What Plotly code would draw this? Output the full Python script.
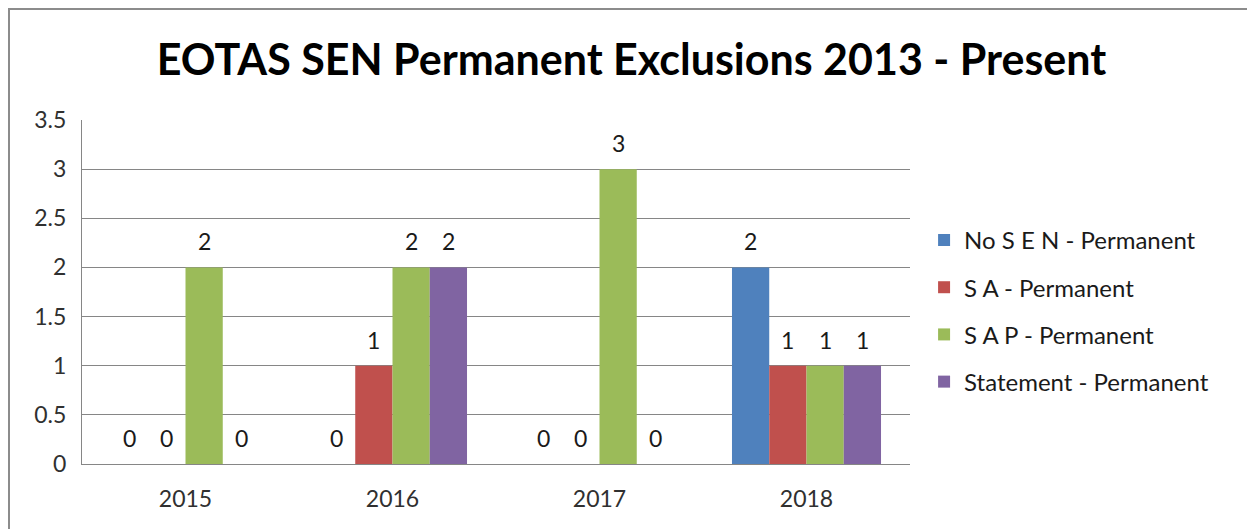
import plotly.graph_objects as go

years = ["2015", "2016", "2017", "2018"]
series_names = ["No S E N - Permanent", "S A - Permanent",
                "S A P - Permanent", "Statement - Permanent"]
no_sen = [0, 0, 0, 2]
sa = [0, 1, 0, 1]
sap = [2, 2, 3, 1]
statement = [0, 2, 0, 1]
series_values = [no_sen, sa, sap, statement]
colors = ["#4F81BD", "#C0504D", "#9BBB59", "#8064A2"]

# page body has an 8px margin, so the figure is a bit smaller than the window
W, H = 1247, 521
L, R, T, B = 74, 345, 112, 65
FONT = "Lato"
BARGAP = 0.28

pw = W - L - R
ph = H - T - B
bar_px = pw / len(years) * (1 - BARGAP) / len(series_names)

fig = go.Figure()
for i, (name, vals) in enumerate(zip(series_names, series_values)):
    fig.add_trace(go.Bar(
        x=years, y=vals, name=name,
        marker=dict(color=colors[i], line=dict(width=0)),
        legendgroup=name,
    ))
    # value labels: category index on x (numeric-looking categories)
    for j, v in enumerate(vals):
        fig.add_annotation(
            x=j, y=v, text=str(v), showarrow=False,
            xshift=(i - 1.5) * bar_px, yshift=26, yanchor="middle",
            font=dict(size=23, color="#1a1a1a", family=FONT),
        )

fig.add_shape(type="rect", xref="paper", yref="paper",
              x0=(1 - L) / pw, x1=(1245 - L) / pw,
              y0=(H - B - 540) / ph, y1=(H - B - 1) / ph,
              line=dict(color="#8c8c8c", width=2), layer="below")

fig.update_layout(
    width=W, height=H,
    margin=dict(l=L, r=R, t=T, b=B),
    paper_bgcolor="white", plot_bgcolor="white",
    barmode="group", bargap=BARGAP, bargroupgap=0,
    title=dict(text="<b>EOTAS SEN Permanent Exclusions 2013 - Present</b>",
               x=0.5, xref="container", y=0.9, yref="container", yanchor="middle",
               font=dict(size=43, color="black", family=FONT)),
    font=dict(family=FONT, color="#404040"),
    legend=dict(x=1.017, xanchor="left", y=0.445, yanchor="middle",
                font=dict(size=24, color="#1a1a1a", family=FONT),
                tracegroupgap=13, itemwidth=30),
    showlegend=True,
)
fig.update_xaxes(type="category", showline=True, linecolor="#868686", linewidth=1,
                 tickfont=dict(size=23, color="#303030"), ticks="",
                 ticklabelstandoff=14)
fig.update_yaxes(range=[0, 3.5], dtick=0.5, showgrid=True, gridcolor="#868686",
                 gridwidth=1, showline=True, linecolor="#868686", zeroline=False,
                 tickfont=dict(size=23, color="#303030"), ticks="",
                 ticklabelstandoff=10)

fig.write_html("out.html")
